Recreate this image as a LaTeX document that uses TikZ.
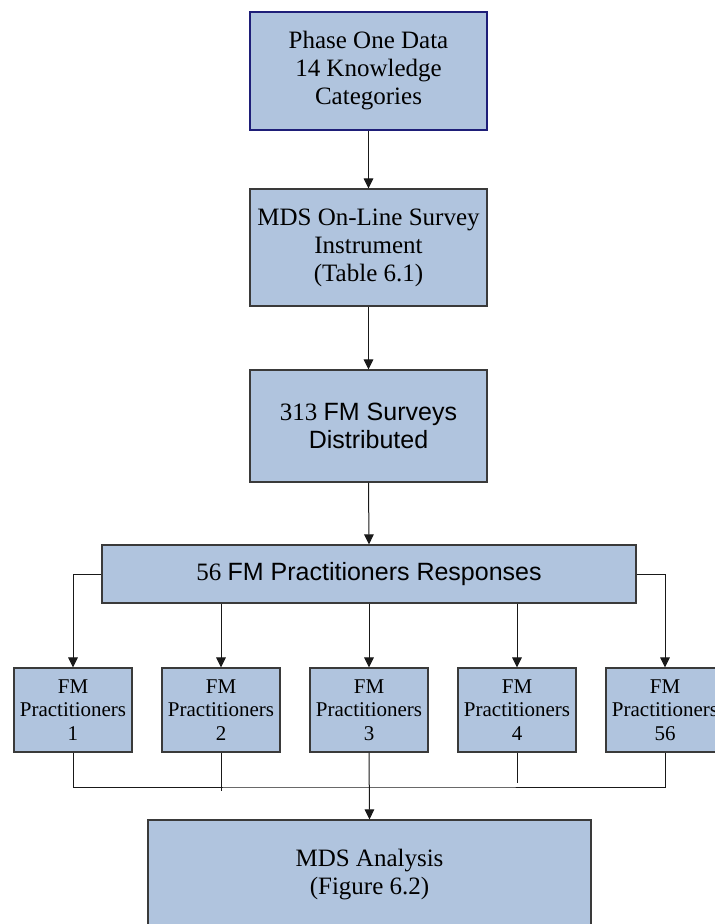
\documentclass[tikz,border=0pt]{standalone}
\usepackage{fontspec}
\setmainfont{Liberation Serif}
\newfontfamily\arialf{Liberation Sans}
\usetikzlibrary{arrows.meta}
\definecolor{boxfill}{HTML}{B0C4DE}
\definecolor{boxline}{HTML}{3A3A3A}
\definecolor{topline}{HTML}{1E1E78}
\begin{document}
\begin{tikzpicture}[x=0.5pt,y=-0.5pt,
  box/.style={draw=boxline, fill=boxfill, line width=0.6pt, inner sep=0pt, align=center,
    font=\fontsize{12.5}{14}\selectfont},
  small/.style={box, minimum width=59pt, minimum height=42pt,
    font=\fontsize{10.5}{11.75}\selectfont},
  conn/.style={draw=black!90, line width=0.5pt},
  arr/.style={conn, -{Triangle[length=5pt,width=4.8pt]}}]
\useasboundingbox (0,0) rectangle (715,924);
\node[box, draw=topline, minimum width=118.5pt, minimum height=59pt] (phase) at (368.5,71)
  {Phase One Data\\14 Knowledge\\Categories};
\node[box, minimum width=118.5pt, minimum height=58.5pt] (survey) at (368.5,247.5)
  {MDS On-Line Survey\\Instrument\\(Table 6.1)};
\node[box, minimum width=118.5pt, minimum height=56pt] (dist) at (368.5,426)
  {313 {\arialf FM Surveys}\\{\arialf Distributed}};
\node[box, minimum width=267pt, minimum height=29pt] (resp) at (369,574)
  {56 {\arialf FM Practitioners Responses}};
\node[small] (p1) at (73,710) {FM\\Practitioners\\1};
\node[small] (p2) at (221,710) {FM\\Practitioners\\2};
\node[small] (p3) at (369,710) {FM\\Practitioners\\3};
\node[small] (p4) at (517,710) {FM\\Practitioners\\4};
\node[small] (p5) at (665,710) {FM\\Practitioners\\56};
\node[box, minimum width=221.5pt, minimum height=55pt] (mds) at (369.5,875)
  {MDS Analysis\\(Figure 6.2)};
\draw[arr] (phase.south) -- (survey.north);
\draw[arr] (survey.south) -- (dist.north);
\draw[arr] (dist.south) -- (resp.north);
\draw[arr] (resp.west) -| (p1.north);
\draw[arr] (resp.east) -| (p5.north);
\draw[arr] (resp.south -| p2.north) -- (p2.north);
\draw[arr] (resp.south -| p3.north) -- (p3.north);
\draw[arr] (resp.south -| p4.north) -- (p4.north);
\coordinate (bus) at (369,787);
\coordinate (p2end) at (221,791);
\coordinate (p4end) at (517,783);
\draw[conn] (p1.south) |- (bus) -| (p5.south);
\draw[conn] (p2.south) -- (p2end);
\draw[conn] (p4.south) -- (p4end);
\draw[arr] (p3.south) -- (mds.north);
\end{tikzpicture}
\end{document}
